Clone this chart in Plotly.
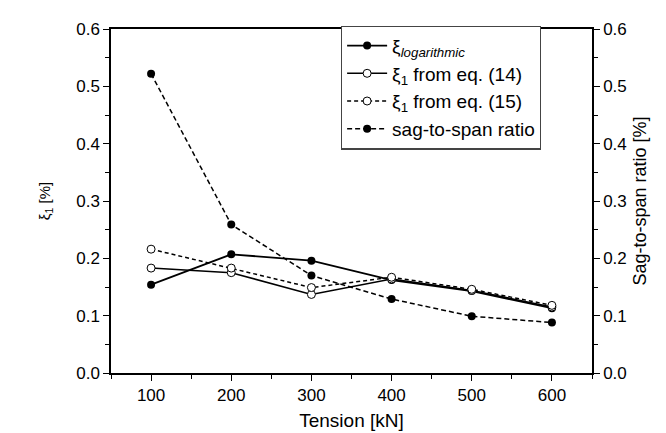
import plotly.graph_objects as go

tension = [100, 200, 300, 400, 500, 600]
xi_log = [0.154, 0.207, 0.196, 0.162, 0.143, 0.113]
xi_eq14 = [0.183, 0.175, 0.137, 0.164, 0.144, 0.115]
xi_eq15 = [0.216, 0.183, 0.149, 0.167, 0.146, 0.118]
sag_ratio = [0.522, 0.259, 0.170, 0.129, 0.099, 0.088]

font = "Liberation Sans, Arial, sans-serif"

fig = go.Figure()

fig.add_trace(go.Scatter(
    x=tension, y=xi_log, name="ξ<sub><i>logarithmic</i></sub>",
    mode="lines+markers", line=dict(color="black", width=1.8),
    marker=dict(symbol="circle", size=8, color="black"),
))
fig.add_trace(go.Scatter(
    x=tension, y=xi_eq14, name="ξ<sub>1</sub> from eq. (14)",
    mode="lines+markers", line=dict(color="black", width=1.5),
    marker=dict(symbol="circle", size=8, color="white", line=dict(color="black", width=1)),
))
fig.add_trace(go.Scatter(
    x=tension, y=xi_eq15, name="ξ<sub>1</sub> from eq. (15)",
    mode="lines+markers", line=dict(color="black", width=1.5, dash="4px,3px"),
    marker=dict(symbol="circle", size=8, color="white", line=dict(color="black", width=1)),
))
fig.add_trace(go.Scatter(
    x=tension, y=sag_ratio, name="sag-to-span ratio", yaxis="y2",
    mode="lines+markers", line=dict(color="black", width=1.5, dash="5px,3px"),
    marker=dict(symbol="circle", size=8, color="black"),
))

axis_common = dict(
    showline=True, linecolor="black", linewidth=1.5, ticks="outside",
    ticklen=6, tickwidth=1.2, tickcolor="black", showgrid=False, zeroline=False,
    tickfont=dict(family=font, size=17, color="black"),
)

fig.update_layout(
    width=666, height=433,
    margin=dict(l=103, r=82, t=19, b=68),
    paper_bgcolor="white", plot_bgcolor="white",
    font=dict(family=font, color="black"),
    showlegend=True,
    legend=dict(
        x=0.478, y=1.01, xanchor="left", yanchor="top",
        bordercolor="#444", borderwidth=1.2, bgcolor="white",
        font=dict(family=font, size=19, color="black"),
        tracegroupgap=0, itemwidth=40, entrywidth=200, entrywidthmode="pixels",
    ),
    xaxis=dict(
        **axis_common, range=[50, 650], tick0=100, dtick=100,
        minor=dict(ticks="outside", dtick=50, ticklen=4, tickcolor="black"),
        mirror=True,
        title=dict(text="Tension [kN]", font=dict(family=font, size=19), standoff=10),
    ),
    yaxis=dict(
        **axis_common, range=[0, 0.6], dtick=0.1, tickformat=".1f",
        minor=dict(ticks="outside", dtick=0.05, ticklen=4, tickcolor="black"),
        title=dict(text="ξ<sub>1</sub> [%]", font=dict(family=font, size=15), standoff=22),
    ),
    yaxis2=dict(
        **axis_common, range=[0, 0.6], dtick=0.1, tickformat=".1f",
        overlaying="y", side="right",
        minor=dict(ticks="outside", dtick=0.05, ticklen=4, tickcolor="black"),
        title=dict(text="Sag-to-span ratio [%]", font=dict(family=font, size=18), standoff=8),
    ),
)

fig.write_html("out.html")
